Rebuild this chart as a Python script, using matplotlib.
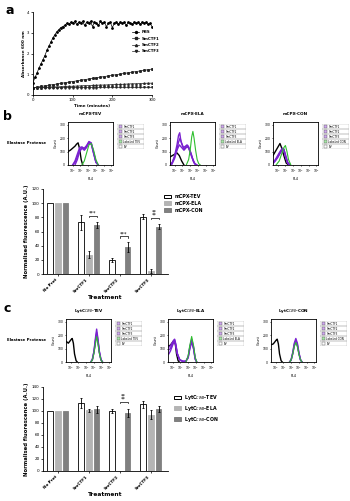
import matplotlib.pyplot as plt
from matplotlib.patches import Rectangle, Patch

W, H = 350, 501

# ---- panel a: absorbance time course ----
time_pbs = list(range(0, 301, 5))
pbs = [0.60, 0.85, 1.05, 1.30, 1.50, 1.70, 1.90, 2.15, 2.35, 2.55, 2.75, 2.90, 3.05,
       3.15, 3.25, 3.30, 3.35, 3.45, 3.40, 3.50, 3.45, 3.55, 3.40, 3.50, 3.45, 3.55,
       3.35, 3.50, 3.45, 3.55, 3.30, 3.50, 3.45, 3.35, 3.55, 3.45, 3.50, 3.30, 3.45,
       3.50, 3.25, 3.45, 3.50, 3.40, 3.50, 3.45, 3.50, 3.35, 3.50, 3.45, 3.40, 3.50,
       3.45, 3.50, 3.40, 3.50, 3.45, 3.50, 3.40, 3.45, 3.30]
time_slow = list(range(0, 301, 10))
smctf1 = [0.35, 0.38, 0.41, 0.44, 0.47, 0.50, 0.53, 0.56, 0.59, 0.62, 0.65, 0.68, 0.71,
          0.74, 0.77, 0.80, 0.83, 0.86, 0.89, 0.92, 0.95, 0.98, 1.01, 1.04, 1.07, 1.10,
          1.13, 1.16, 1.19, 1.22, 1.25]
smctf2 = [0.35, 0.36, 0.36, 0.37, 0.38, 0.39, 0.39, 0.40, 0.41, 0.42, 0.42, 0.43, 0.44,
          0.45, 0.45, 0.46, 0.47, 0.48, 0.48, 0.49, 0.50, 0.51, 0.51, 0.52, 0.53, 0.54,
          0.54, 0.55, 0.56, 0.57, 0.57]
smctf3 = [0.35, 0.35, 0.35, 0.35, 0.35, 0.35, 0.36, 0.36, 0.36, 0.36, 0.36, 0.36, 0.36,
          0.36, 0.36, 0.36, 0.36, 0.37, 0.37, 0.37, 0.37, 0.37, 0.37, 0.37, 0.37, 0.37,
          0.37, 0.37, 0.37, 0.37, 0.37]

# ---- histograms: (log10 FL4 positions, counts) per curve ----
b_tev = {
    "ev": [([-0.6, -0.3, 0, 0.3, 0.5, 0.7, 0.9, 1.1, 1.3], [100, 110, 125, 140, 155, 165, 120, 40, 0])],
    "smctf": [([0, 0.3, 0.6, 0.9, 1.2, 1.5, 1.8, 2.1, 2.4, 2.7, 3.0, 3.3], [0, 30, 80, 130, 135, 120, 140, 170, 160, 90, 20, 0]),
              ([0, 0.3, 0.6, 0.9, 1.2, 1.5, 1.8, 2.1, 2.4, 2.7, 3.0, 3.3], [0, 20, 60, 110, 130, 125, 145, 175, 165, 95, 25, 0]),
              ([0.3, 0.6, 0.9, 1.2, 1.5, 1.8, 2.1, 2.4, 2.7, 3.0, 3.3], [0, 40, 100, 125, 110, 130, 165, 155, 85, 20, 0])],
    "lab": [([1.2, 1.5, 1.8, 2.1, 2.4, 2.7, 3.0, 3.3], [0, 30, 90, 150, 160, 110, 40, 0])],
}
b_ela = {
    "ev": [([-0.6, -0.3, 0, 0.3, 0.6, 0.9, 1.2], [60, 70, 80, 90, 70, 30, 0])],
    "smctf": [([-0.6, -0.3, 0, 0.3, 0.5, 0.65, 0.8, 1.1, 1.4, 1.6, 1.9, 2.2, 2.5, 2.8], [0, 20, 70, 150, 220, 240, 180, 130, 140, 150, 110, 60, 15, 0]),
              ([-0.6, -0.3, 0, 0.3, 0.5, 0.7, 0.9, 1.2, 1.5, 1.7, 2.0, 2.3, 2.6, 2.9], [0, 20, 60, 120, 170, 200, 160, 120, 140, 145, 100, 50, 10, 0]),
              ([-0.4, 0, 0.3, 0.6, 0.9, 1.2, 1.5, 1.8, 2.1, 2.4, 2.7], [0, 50, 110, 150, 130, 110, 130, 135, 90, 30, 0])],
    "lab": [([1.5, 1.8, 2.0, 2.2, 2.35, 2.5, 2.7, 2.9, 3.1, 3.3], [0, 40, 110, 210, 250, 200, 110, 40, 10, 0])],
}
b_con = {
    "ev": [([-0.6, -0.3, 0, 0.3, 0.5, 0.8, 1.1, 1.4], [70, 100, 130, 160, 130, 70, 15, 0])],
    "smctf": [([-0.6, -0.3, 0, 0.3, 0.6, 0.8, 1.0, 1.3, 1.6], [20, 40, 70, 100, 125, 110, 60, 10, 0]),
              ([-0.6, -0.3, 0, 0.3, 0.6, 0.8, 1.0, 1.3, 1.6], [15, 35, 60, 90, 115, 120, 70, 15, 0]),
              ([-0.6, -0.3, 0, 0.3, 0.6, 0.8, 1.0, 1.3, 1.6], [10, 30, 55, 85, 110, 115, 80, 20, 0])],
    "lab": [([-0.2, 0.2, 0.5, 0.8, 1.0, 1.2, 1.4, 1.7], [0, 30, 80, 130, 145, 100, 40, 0])],
}
c_tev = {
    "ev": [([-0.5, -0.3, -0.1, 0.1, 0.2, 0.35, 0.5, 0.7, 0.85], [150, 140, 155, 170, 175, 140, 60, 10, 0])],
    "smctf": [([2.6, 2.8, 3.0, 3.2, 3.35, 3.5, 3.7, 3.9, 4.1], [0, 20, 80, 180, 245, 180, 80, 20, 0]),
              ([2.6, 2.8, 3.0, 3.2, 3.35, 3.5, 3.7, 3.9, 4.1], [0, 20, 75, 165, 220, 170, 75, 20, 0]),
              ([2.6, 2.8, 3.0, 3.2, 3.35, 3.5, 3.7, 3.9, 4.1], [0, 15, 70, 150, 200, 155, 70, 15, 0])],
    "lab": [([2.6, 2.8, 3.0, 3.2, 3.35, 3.5, 3.7, 3.9, 4.1], [0, 15, 65, 140, 190, 145, 65, 15, 0])],
}
c_ela = {
    "ev": [([-0.5, -0.3, -0.1, 0.1, 0.2, 0.35, 0.5, 0.7, 0.85], [120, 125, 140, 155, 160, 130, 60, 10, 0])],
    "smctf": [([-0.5, -0.3, -0.1, 0.1, 0.25, 0.4, 0.6, 0.9, 1.3, 1.7, 2.0, 2.2, 2.45, 2.7, 2.9, 3.1], [60, 80, 110, 140, 150, 120, 60, 20, 5, 5, 40, 110, 170, 110, 30, 0]),
              ([-0.5, -0.3, -0.1, 0.1, 0.25, 0.4, 0.6, 0.9, 1.3, 1.7, 2.0, 2.2, 2.45, 2.7, 2.9, 3.1], [90, 100, 125, 150, 165, 130, 60, 15, 5, 5, 35, 100, 160, 100, 25, 0]),
              ([-0.5, -0.3, -0.1, 0.1, 0.25, 0.4, 0.6, 0.9, 1.3, 1.7, 2.0, 2.2, 2.45, 2.7, 2.9, 3.1], [110, 120, 140, 160, 170, 135, 65, 15, 5, 5, 30, 95, 150, 95, 20, 0])],
    "lab": [([1.7, 2.0, 2.2, 2.45, 2.7, 2.9, 3.1], [0, 45, 120, 190, 120, 35, 0])],
}
c_con = {
    "ev": [([-0.5, -0.3, -0.1, 0.1, 0.2, 0.35, 0.5, 0.7, 0.85], [130, 135, 150, 165, 170, 135, 60, 10, 0])],
    "smctf": [([1.8, 2.0, 2.2, 2.4, 2.6, 2.8, 3.0, 3.2, 3.4], [0, 20, 70, 140, 175, 140, 70, 20, 0]),
              ([1.8, 2.0, 2.2, 2.4, 2.6, 2.8, 3.0, 3.2, 3.4], [0, 15, 65, 130, 160, 130, 65, 15, 0]),
              ([1.8, 2.0, 2.2, 2.4, 2.6, 2.8, 3.0, 3.2, 3.4], [0, 15, 60, 120, 150, 120, 60, 15, 0])],
    "lab": [([1.8, 2.0, 2.2, 2.4, 2.6, 2.8, 3.0, 3.2, 3.4], [0, 15, 60, 115, 145, 115, 60, 15, 0])],
}

# ---- bar charts ----
treatments = ["No Prot", "SmCTF1", "SmCTF2", "SmCTF3"]
b_labels = ["mCPX-TEV", "mCPX-ELA", "mCPX-CON"]
b_means = [[100, 73, 20, 81], [100, 27, 0, 4], [100, 69, 38, 67]]
b_errs = [[0, 11, 3, 4], [0, 5, 0, 3], [0, 4, 7, 3]]
b_sig = [(1, 1, 2, 82, "***"), (2, 1, 2, 53, "***"), (3, 1, 2, 79, "**\n**")]
c_labels = ["LytC$_{CWB}$-TEV", "LytC$_{CWB}$-ELA", "LytC$_{CWB}$-CON"]
c_means = [[100, 113, 100, 111], [100, 101, 0, 94], [100, 103, 97, 104]]
c_errs = [[0, 8, 3, 6], [0, 3, 0, 8], [0, 6, 7, 5]]
c_sig = [(2, 1, 2, 115, "**\n**")]

bar_colors = ["white", "#b4b4b4", "#808080"]
purple, green = "#7a22d0", "#2fbf2f"

fig = plt.figure(figsize=(W / 100, H / 100), dpi=100)


def px_axes(x0, y0, x1, y1):
    return fig.add_axes([x0 / W, 1 - y1 / H, (x1 - x0) / W, (y1 - y0) / H])


def style(ax, size=3):
    ax.tick_params(labelsize=size, length=1.5, width=0.5, pad=1)
    for s in ax.spines.values():
        s.set_linewidth(0.6)


# panel a
ax = px_axes(33, 12, 152, 95)
ax.plot(time_pbs, pbs, "-o", color="black", lw=0.5, ms=1.0, label="PBS")
ax.plot(time_slow, smctf1, "-s", color="#222222", lw=0.5, ms=1.1, label="SmCTF1")
ax.plot(time_slow, smctf2, "-^", color="#222222", lw=0.5, ms=1.1, label="SmCTF2")
ax.plot(time_slow, smctf3, "-v", color="#222222", lw=0.5, ms=1.1, label="SmCTF3")
ax.set_xlim(0, 300)
ax.set_ylim(0, 4)
ax.set_xticks([0, 100, 200, 300])
ax.set_yticks([0, 1, 2, 3, 4])
ax.spines[["top", "right"]].set_visible(False)
style(ax, 2.8)
ax.set_xlabel("Time (minutes)", fontsize=3, fontweight="bold", labelpad=1)
ax.set_ylabel("Absorbance 600 nm", fontsize=3, fontweight="bold", labelpad=1)
ax.legend(loc="upper left", bbox_to_anchor=(0.8, 0.82), frameon=False,
          handlelength=2, handletextpad=0.5, labelspacing=0.6, markerscale=1.4,
          prop={"weight": "bold", "size": 2.8})
fig.text(5 / W, 1 - 10 / H, "a", fontsize=9, fontweight="bold", va="center")


def histogram(x0, y0, data, title, lab_name):
    ax = px_axes(x0, y0, x0 + 45, y0 + 43)
    for xs, ys in data["ev"]:
        ax.plot(xs, ys, color="black", lw=1.0)
    for xs, ys in data["smctf"]:
        ax.plot(xs, ys, color=purple, lw=1.0)
    for xs, ys in data["lab"]:
        ax.plot(xs, ys, color=green, lw=0.8)
    ax.set_xlim(-0.6, 5.2)
    ax.set_ylim(0, 320)
    ax.set_xticks(range(6))
    ax.set_xticklabels([f"$10^{k}$" for k in range(6)])
    ax.set_yticks([0, 100, 200, 300])
    style(ax, 2.2)
    ax.tick_params(length=1)
    ax.set_xlabel("FL4", fontsize=2.4, labelpad=1)
    ax.set_ylabel("Count", fontsize=2.4, labelpad=1)
    ax.set_title(title, fontsize=3, fontweight="bold", pad=5)
    # legend boxes
    lax = px_axes(x0 + 49, y0 + 2, x0 + 76, y0 + 27)
    lax.set_xlim(0, 1)
    lax.set_ylim(5, 0)
    lax.axis("off")
    entries = [("SmCTF1", "#cfa8f0"), ("SmCTF2", "#cfa8f0"), ("SmCTF3", "#cfa8f0"),
               (lab_name, "#a6e8a6"), ("EV", "white")]
    for i, (name, col) in enumerate(entries):
        lax.add_patch(Rectangle((0, i), 1, 1, fill=False, ec="#aaaaaa", lw=0.3))
        lax.add_patch(Rectangle((0.06, i + 0.2), 0.12, 0.6, fc=col, ec="#555555", lw=0.3))
        lax.text(0.24, i + 0.55, name, fontsize=2.0, va="center")


def bar_chart(y_top, y_bottom, ymax, means, errs, labels, sig, leg_xy):
    ax = px_axes(43, y_top, 168, y_bottom)
    offs = [-0.245, 0, 0.245]
    handles = []
    for j in range(3):
        xs = [i + offs[j] for i in range(len(treatments))]
        edge = "black" if j == 0 else bar_colors[j]
        ax.bar(xs, means[j], width=0.19, color=bar_colors[j], edgecolor=edge, lw=0.6)
        for x, m, e in zip(xs, means[j], errs[j]):
            if e > 0:
                ax.errorbar(x, m, yerr=e, color="black", lw=0.6, capsize=1, capthick=0.6)
        handles.append(Patch(fc=bar_colors[j], ec=edge, lw=0.7, label=labels[j]))
    for g, b1, b2, h, txt in sig:
        xa, xb = g + offs[b1], g + offs[b2]
        ax.plot([xa, xa, xb, xb], [h - 2, h, h, h - 2], color="black", lw=0.5)
        ax.text((xa + xb) / 2, h, txt, ha="center", va="bottom", fontsize=3.5, linespacing=0.6)
    ax.set_xlim(-0.48, 3.55)
    ax.set_ylim(0, ymax)
    ax.set_yticks(range(0, ymax + 1, 20))
    ax.set_xticks(range(len(treatments)))
    ax.set_xticklabels(treatments, rotation=45, ha="right", fontweight="bold")
    ax.spines[["top", "right"]].set_visible(False)
    style(ax, 3)
    ax.set_ylabel("Normalised fluorescence (A.U.)", fontsize=3.8, fontweight="bold", labelpad=2)
    ax.set_xlabel("Treatment", fontsize=4.2, fontweight="bold", labelpad=1)
    fig.legend(handles=handles, loc="upper left", bbox_to_anchor=(leg_xy[0] / W, 1 - leg_xy[1] / H),
               frameon=False, handlelength=1.5, handleheight=0.8, handletextpad=0.6, labelspacing=0.35,
               prop={"weight": "bold", "size": 3.4})


# panel b
fig.text(3 / W, 1 - 117 / H, "b", fontsize=9, fontweight="bold", va="center")
fig.text(27 / W, 1 - 143 / H, "Elastase Protease", fontsize=2.8, fontweight="bold", ha="center", va="center")
histogram(68, 122, b_tev, "mCPX-TEV", "Labeled TEV")
histogram(170, 122, b_ela, "mCPX-ELA", "Labeled ELA")
histogram(273, 122, b_con, "mCPX-CON", "Labeled CON")
bar_chart(189, 274, 120, b_means, b_errs, b_labels, b_sig, (160, 190))

# panel c
fig.text(3 / W, 1 - 309 / H, "c", fontsize=9, fontweight="bold", va="center")
fig.text(27 / W, 1 - 340 / H, "Elastase Protease", fontsize=2.8, fontweight="bold", ha="center", va="center")
histogram(66, 319, c_tev, "LytC$_{CWB}$-TEV", "Labeled TEV")
histogram(168, 319, c_ela, "LytC$_{CWB}$-ELA", "Labeled ELA")
histogram(271, 319, c_con, "LytC$_{CWB}$-CON", "Labeled CON")
bar_chart(387, 471, 140, c_means, c_errs, c_labels, c_sig, (170, 389))

fig.savefig("out.png", dpi=100)
